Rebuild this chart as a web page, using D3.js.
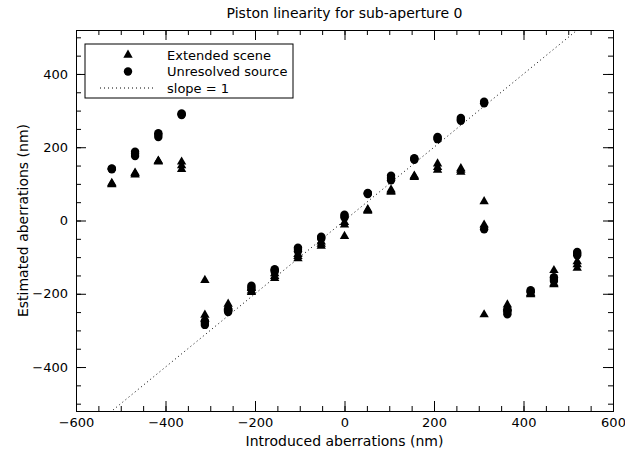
<!DOCTYPE html>
<html>
<head>
<meta charset="utf-8">
<script src="https://cdn.jsdelivr.net/npm/d3@7"></script>
<style>
  body { margin: 0; background: #fff; }
  text { font-family: "DejaVu Sans", sans-serif; fill: #000; }
</style>
</head>
<body>
<div id="chart"></div>
<script>
// introduced piston values (nm)
const introduced = [-520, -468, -416, -364, -312, -260, -208, -156, -104, -52, 0,
    52, 104, 156, 208, 260, 312, 364, 416, 468, 520];

// estimated values, several measurements per introduced value
const extendedScene = [
    [100, 98, 102], [125, 130, 128], [160, 163, 162], [140, 150, 160],
    [-163, -258, -268], [-228, -235, -240], [-185, -192, -196], [-145, -152, -158],
    [-92, -98, -104], [-58, -64, -70], [-5, -12, -43], [28, 30, 26],
    [80, 84, 78], [120, 122, 118], [138, 145, 155], [132, 138, 142],
    [52, -12, -257], [-230, -236, -240], [-198, -200, -202], [-136, -172, -175],
    [-112, -120, -130]
];
const unresolvedSource = [
    [140, 141, 142], [176, 182, 188], [228, 234, 238], [288, 290, 292],
    [-275, -280, -285], [-242, -246, -250], [-178, -183, -188], [-133, -136, -140],
    [-74, -78, -84], [-44, -47, -50], [8, 12, 16], [72, 74, 75],
    [110, 116, 122], [166, 168, 170], [222, 225, 228], [272, 276, 280],
    [320, 324, -24], [-245, -250, -256], [-190, -193, -196], [-155, -160, -165],
    [-86, -90, -95]
];
const xTicks = [-600, -400, -200, 0, 200, 400, 600];
const yTicks = [-400, -200, 0, 200, 400];
const legendLabels = ["Extended scene", "Unresolved source", "slope = 1"];

const width = 625, height = 453,
    margin = ({ top: 30, right: 12, bottom: 42, left: 76 });

const svg = d3.select("#chart")
    .append("svg")
    .attr("width", width)
    .attr("height", height);

let x = d3.scaleLinear()
    .domain([-600, 600])
    .range([margin.left, width - margin.right]);

let y = d3.scaleLinear()
    .domain([-520, 520])
    .range([height - margin.bottom, margin.top]);

// flatten to points
let flat = (series) => {
    let pts = [];
    series.forEach((vals, i) => vals.forEach(v => pts.push({ x: introduced[i], y: v })));
    return pts;
};
const triPts = flat(extendedScene),
    dotPts = flat(unresolvedSource);

svg.append("clipPath").attr("id", "clip")
    .append("rect")
    .attr("x", margin.left).attr("y", margin.top)
    .attr("width", width - margin.left - margin.right)
    .attr("height", height - margin.top - margin.bottom);

// slope = 1 line
let line = d3.line().x(d => x(d)).y(d => y(d));
svg.append("path")
    .datum([-600, 600])
    .attr("clip-path", "url(#clip)")
    .attr("fill", "none")
    .attr("stroke", "#000")
    .attr("stroke-width", 1)
    .attr("stroke-dasharray", "1,3")
    .attr("d", line);

// axes, ticks inward on all four sides
const minorX = d3.range(-600, 601, 50), minorY = d3.range(-500, 501, 50);
let addAxis = (axis, tr) => svg.append("g").attr("transform", tr).call(axis)
    .call(g => g.select(".domain").attr("stroke", "#000"))
    .call(g => g.selectAll(".tick line").attr("stroke", "#000"));

addAxis(d3.axisBottom(x).tickValues(minorX).tickSize(-5).tickFormat(""), `translate(0,${y.range()[0]})`);
addAxis(d3.axisBottom(x).tickValues(xTicks).tickSize(-10).tickPadding(7).tickSizeOuter(0), `translate(0,${y.range()[0]})`)
    .selectAll("text").attr("font-size", 13);
addAxis(d3.axisTop(x).tickValues(minorX).tickSize(-5).tickFormat(""), `translate(0,${margin.top})`);
addAxis(d3.axisTop(x).tickValues(xTicks).tickSize(-10).tickFormat("").tickSizeOuter(0), `translate(0,${margin.top})`);

addAxis(d3.axisLeft(y).tickValues(minorY).tickSize(-5).tickFormat(""), `translate(${margin.left},0)`);
addAxis(d3.axisLeft(y).tickValues(yTicks).tickSize(-10).tickPadding(8).tickSizeOuter(0), `translate(${margin.left},0)`)
    .selectAll("text").attr("font-size", 13);
addAxis(d3.axisRight(y).tickValues(minorY).tickSize(-5).tickFormat(""), `translate(${width - margin.right},0)`);
addAxis(d3.axisRight(y).tickValues(yTicks).tickSize(-10).tickFormat("").tickSizeOuter(0), `translate(${width - margin.right},0)`);

// markers
const tri = d3.symbol().type(d3.symbolTriangle).size(38);
svg.append("g").selectAll("path")
    .data(triPts)
    .join("path")
    .attr("d", tri)
    .attr("fill", "#000")
    .attr("transform", d => `translate(${x(d.x)},${y(d.y)})`);

svg.append("g").selectAll("circle")
    .data(dotPts)
    .join("circle")
    .attr("cx", d => x(d.x))
    .attr("cy", d => y(d.y))
    .attr("r", 4.2)
    .attr("fill", "#000");

// title and axis labels
svg.append("text")
    .attr("text-anchor", "middle")
    .attr("x", (x.range()[0] + x.range()[1]) / 2)
    .attr("y", 18)
    .attr("font-size", 14)
    .text("Piston linearity for sub-aperture 0");

svg.append("text")
    .attr("text-anchor", "middle")
    .attr("x", (x.range()[0] + x.range()[1]) / 2)
    .attr("y", 446)
    .attr("font-size", 14)
    .text("Introduced aberrations (nm)");

svg.append("text")
    .attr("text-anchor", "middle")
    .attr("transform", `translate(28,${(y.range()[0] + y.range()[1]) / 2}) rotate(-90)`)
    .attr("font-size", 14)
    .text("Estimated aberrations (nm)");

// legend
const lg = svg.append("g");
lg.append("rect")
    .attr("x", 85).attr("y", 44)
    .attr("width", 208).attr("height", 54)
    .attr("fill", "#fff")
    .attr("stroke", "#000");

lg.append("path").attr("d", tri).attr("transform", "translate(128,55)");
lg.append("circle").attr("cx", 128).attr("cy", 71.5).attr("r", 4.2);
lg.append("line")
    .attr("x1", 100).attr("x2", 156)
    .attr("y1", 88).attr("y2", 88)
    .attr("stroke", "#000")
    .attr("stroke-dasharray", "1,3");

lg.selectAll("text")
    .data(legendLabels)
    .join("text")
    .attr("x", 167)
    .attr("y", (d, i) => 55 + i * 16.7)
    .attr("dy", "0.35em")
    .attr("font-size", 13)
    .text(d => d);
</script>
</body>
</html>
